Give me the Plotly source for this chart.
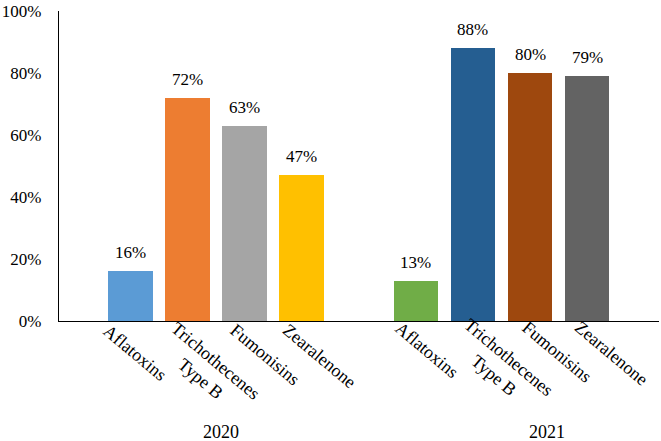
import plotly.graph_objects as go

# ---- data ----
years = ["2020", "2021"]
categories = ["Aflatoxins", "Trichothecenes<br>Type B", "Fumonisins", "Zearalenone"]
values_2020 = [0.16, 0.72, 0.63, 0.47]
values_2021 = [0.13, 0.88, 0.80, 0.79]
y_ticks = [0, 0.2, 0.4, 0.6, 0.8, 1.0]

# ---- style ----
colors_2020 = ["#5B9BD5", "#ED7D31", "#A5A5A5", "#FFC000"]
colors_2021 = ["#70AD47", "#255E91", "#9E480E", "#636363"]
FONT = "Liberation Serif, Times New Roman, serif"
# label offsets (px) of rotated category labels relative to bar centre
label_dx = [[5, 21, 21, 18], [11, 29, 27, 24]]
label_dy = [[32, 48, 34, 35], [29, 45, 31, 32]]
group_dx = [5, 45]

series = [values_2020, values_2021]
colors = [colors_2020, colors_2021]

fig = go.Figure()
annotations = []
for gi, (yr, vals) in enumerate(zip(years, series)):
    xs = [gi * 5 + i for i in range(len(categories))]
    fig.add_trace(go.Bar(
        x=xs, y=vals, width=0.78,
        marker=dict(color=colors[gi], line=dict(width=0)),
        showlegend=False, hoverinfo="skip",
    ))
    for i, (x, v) in enumerate(zip(xs, vals)):
        annotations.append(dict(
            x=x, y=v, xref="x", yref="y", text=f"{round(v*100)}%",
            showarrow=False, xanchor="center", yanchor="bottom", yshift=7,
            font=dict(family=FONT, size=17, color="#000000"),
        ))
        annotations.append(dict(
            x=x, y=0, xref="x", yref="y", text=categories[i],
            showarrow=False, xanchor="center", yanchor="middle",
            xshift=label_dx[gi][i], yshift=-label_dy[gi][i],
            textangle=40, align="center",
            font=dict(family=FONT, size=18, color="#000000"),
        ))
    annotations.append(dict(
        x=sum(xs) / len(xs), y=0, xref="x", yref="y", text=yr,
        showarrow=False, xanchor="center", yanchor="middle",
        xshift=group_dx[gi], yshift=-111,
        font=dict(family=FONT, size=18, color="#000000"),
    ))

fig.update_layout(
    width=661, height=441,
    margin=dict(l=55, r=2, t=7.5, b=120.3, pad=0),
    paper_bgcolor="white", plot_bgcolor="white",
    bargap=0,
    annotations=annotations,
    xaxis=dict(range=[-1.247, 9.257], showline=True, linecolor="#000000", linewidth=1.2,
               showticklabels=False, showgrid=False, zeroline=False, ticks=""),
    yaxis=dict(range=[0, 1.0005], tickvals=y_ticks, tickformat=".0%", showline=True,
               linecolor="#000000", linewidth=1.2, showgrid=False, zeroline=False,
               ticks="", ticklabelstandoff=13, ticklabeloverflow="allow",
               tickfont=dict(family=FONT, size=17, color="#000000")),
)

fig.write_html("out.html", config={"displayModeBar": False},
               post_script="document.body.style.margin='0px';document.body.style.overflow='hidden';")
